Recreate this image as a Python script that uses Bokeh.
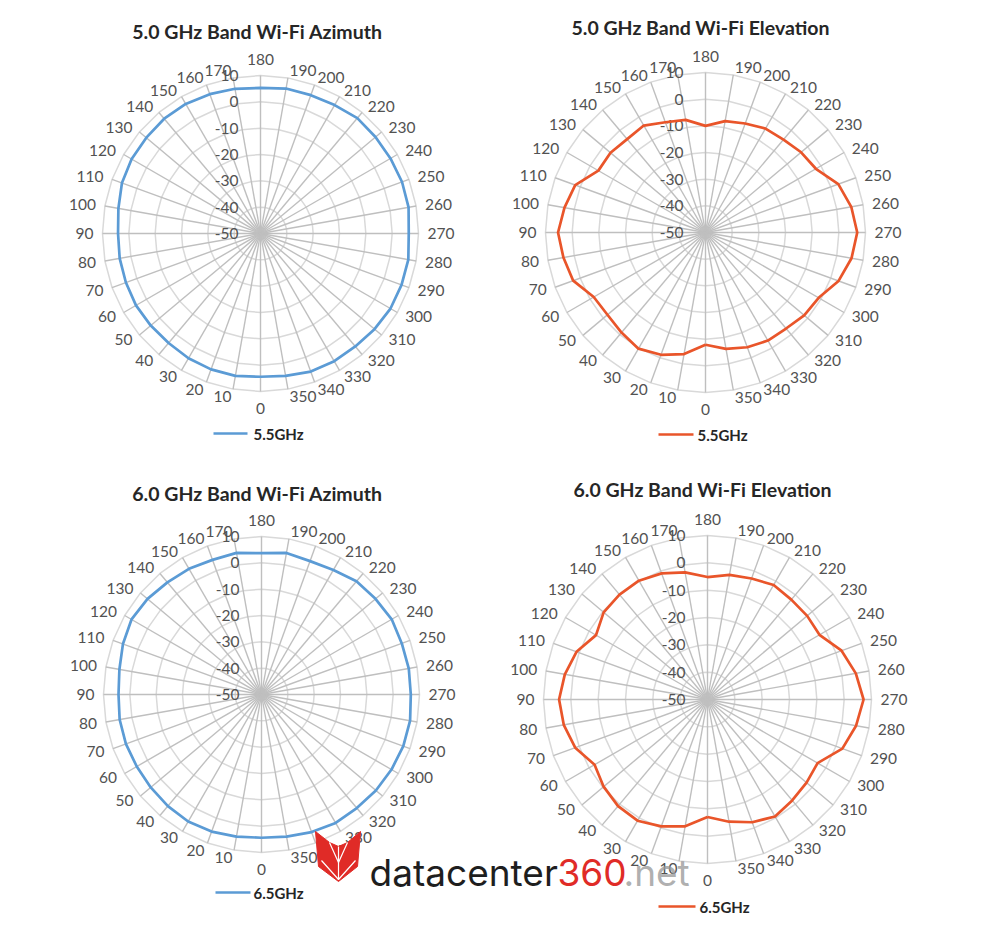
import numpy as np
from bokeh.plotting import figure
from bokeh.models import Range1d
from bokeh.core.properties import value
from bokeh.embed import file_html
from bokeh.resources import INLINE

# ---------------- data ----------------
angles = list(range(0, 360, 10))

az_5g = [4.4, 4.9, 4.9, 4.7, 4.3, 4.4, 4.6, 4.4, 4.3, 4.1, 4.8, 6.0,
         6.5, 6.6, 6.9, 6.8, 6.3, 5.8, 5.3, 5.9, 5.9, 6.3, 7.2, 7.0,
         7.0, 7.2, 7.1, 6.3, 7.0, 7.0, 7.0, 6.5, 6.0, 6.0, 5.8, 4.9]

el_5g = [-7.9, -3.7, -1.2, 0.3, -1.0, -2.0, -1.6, 2.8, 4.1, 5.3, 3.7, 2.0,
         -3.6, -3.5, -4.3, -3.7, -6.0, -7.1, -10.0, -7.6, -6.5, -5.0, -4.5, -3.2,
         -2.2, 3.0, 5.5, 6.9, 5.6, 3.1, -1.0, -1.7, -3.0, -3.2, -4.2, -5.7]

az_6g = [4.4, 4.8, 5.4, 5.7, 5.3, 4.9, 4.7, 4.8, 4.7, 4.3, 4.8, 6.0,
         7.0, 6.5, 5.6, 5.1, 4.4, 4.6, 3.7, 4.6, 3.9, 4.6, 6.1, 6.5,
         7.1, 6.7, 6.8, 6.7, 7.3, 7.3, 7.0, 6.7, 6.3, 6.3, 5.6, 4.8]

el_6g = [-7.0, -2.9, -0.6, 1.2, 0.9, -0.4, -2.3, 1.5, 3.4, 4.3, 3.0, 1.0,
         -2.9, -0.4, 0.1, 0.2, -0.9, -2.8, -5.2, -3.7, -2.9, -1.6, -2.3, -2.4,
         -2.7, 2.2, 5.1, 7.1, 5.2, 2.5, -3.5, -2.7, -1.8, -0.6, -2.2, -4.6]

radial_ticks = [10, 0, -10, -20, -30, -40, -50]
r_min, r_max = -50, 10

titles = ["5.0 GHz Band Wi-Fi Azimuth", "5.0 GHz Band Wi-Fi Elevation",
          "6.0 GHz Band Wi-Fi Azimuth", "6.0 GHz Band Wi-Fi Elevation"]
series_names = ["5.5GHz", "5.5GHz", "6.5GHz", "6.5GHz"]
series_values = [az_5g, el_5g, az_6g, el_6g]

BLUE = "#5b9bd5"
ORANGE = "#e9552a"
colors = [BLUE, ORANGE, BLUE, ORANGE]

# layout (pixel positions of each small chart)
layouts = [
    dict(cx=260, cy=233, R=158, tx=257, ty=31, lx0=213, lx1=247, ly=433, ltx=253),
    dict(cx=705, cy=232, R=160, tx=700, ty=27, lx0=658, lx1=693, ly=434, ltx=697),
    dict(cx=261, cy=694, R=158, tx=257, ty=493, lx0=215, lx1=250, ly=892, ltx=253),
    dict(cx=707, cy=699, R=164, tx=702, ty=489, lx0=658, lx1=695, ly=906, ltx=699),
]

W, H = 1000, 932
p = figure(width=W, height=H, output_backend="svg", toolbar_location=None,
           x_range=Range1d(0, W), y_range=Range1d(H, 0), min_border=0)
p.axis.visible = False
p.grid.visible = False
p.outline_line_color = None
p.background_fill_color = "white"
p.border_fill_color = "white"

FONT = value("Lato")
LABEL_COLOR = "#525252"
LABEL_SIZE = "15.5px"


def polar(cx, cy, R, vals, angs):
    v = np.asarray(vals, dtype=float)
    a = np.radians(np.asarray(angs, dtype=float) - 180.0)
    r = (v - r_min) / (r_max - r_min) * R
    return cx + r * np.sin(a), cy - r * np.cos(a)


for k in range(4):
    L = layouts[k]
    cx, cy, R = L["cx"], L["cy"], L["R"]

    # ring gridlines (polygons through the spokes)
    ring_xs, ring_ys = [], []
    for t in radial_ticks[:-1]:
        xs, ys = polar(cx, cy, R, [t] * (len(angles) + 1), angles + [angles[0]])
        ring_xs.append(list(xs))
        ring_ys.append(list(ys))
    p.multi_line(ring_xs, ring_ys, line_color="#d9d9d9", line_width=1.5)

    # spokes
    sp_xs, sp_ys = [], []
    for a in angles:
        xs, ys = polar(cx, cy, R, [r_min, r_max], [a, a])
        sp_xs.append(list(xs))
        sp_ys.append(list(ys))
    p.multi_line(sp_xs, sp_ys, line_color="#bfbfbf", line_width=1.4)

    # radial tick labels
    _, ty = polar(cx, cy, R, radial_ticks, [180] * len(radial_ticks))
    p.text(x=[cx - 22] * len(radial_ticks), y=list(ty),
           text=[str(t) for t in radial_ticks], text_font=FONT,
           text_font_size=LABEL_SIZE, text_color=LABEL_COLOR,
           text_align="right", text_baseline="middle")

    # category labels (anchored like Excel: corner nearest to the spoke end)
    gap, half_h = 9.0, 7.5
    ex, ey = polar(cx, cy, R, [r_max] * len(angles), angles)
    for a, x0, y0 in zip(angles, ex, ey):
        ph = np.radians(a - 180.0)
        s, c = np.sin(ph), np.cos(ph)
        if abs(s) < 1e-6:
            align = "center"
            x = x0
            y = y0 - np.sign(c) * (gap + half_h)
        else:
            align = "left" if s > 0 else "right"
            x = x0 + s * gap
            y = y0 - c * half_h
        p.text(x=[x], y=[y], text=[str(a)], text_font=FONT,
               text_font_size=LABEL_SIZE, text_color=LABEL_COLOR,
               text_align=align, text_baseline="middle")

    # data series
    vals = series_values[k]
    xs, ys = polar(cx, cy, R, vals + [vals[0]], angles + [angles[0]])
    p.line(list(xs), list(ys), line_color=colors[k], line_width=2.7,
           line_join="round")

    # title
    p.text(x=[L["tx"]], y=[L["ty"]], text=[titles[k]], text_font=FONT,
           text_font_style="bold", text_font_size="19.5px", text_color="#262626",
           text_align="center", text_baseline="middle")

    # legend
    p.line([L["lx0"], L["lx1"]], [L["ly"], L["ly"]], line_color=colors[k],
           line_width=2.7)
    p.text(x=[L["ltx"]], y=[L["ly"]], text=[series_names[k]], text_font=FONT,
           text_font_style="bold", text_font_size="15px", text_color="#262626",
           text_align="left", text_baseline="middle")

# watermark (datacenter360.net)
logo_x = [315, 329, 338, 347, 360, 357, 338, 318]
logo_y = [831, 842, 846, 842, 831, 866, 881, 866]
p.patch(logo_x, logo_y, fill_color="#e02b27", line_color="#e02b27")
p.multi_line([[329, 338, 347], [321, 338, 355], [338, 338]],
             [[842, 862, 842], [860, 879, 860], [846, 879]],
             line_color="white", line_width=1.2)
wm_font = value("Inter")
p.text(x=[369], y=[872], text=["datacenter"], text_font=wm_font,
       text_font_size="37px", text_color="#1e1e1e",
       text_align="left", text_baseline="alphabetic")
p.text(x=[557], y=[872], text=["360"], text_font=wm_font,
       text_font_size="37px", text_color="#e02b27",
       text_align="left", text_baseline="alphabetic")
p.text(x=[623], y=[872], text=[".net"], text_font=wm_font,
       text_font_size="37px", text_color="#9a9a9a",
       text_align="left", text_baseline="alphabetic", text_alpha=0.8)

open("out.html", "w").write(file_html(p, INLINE))
